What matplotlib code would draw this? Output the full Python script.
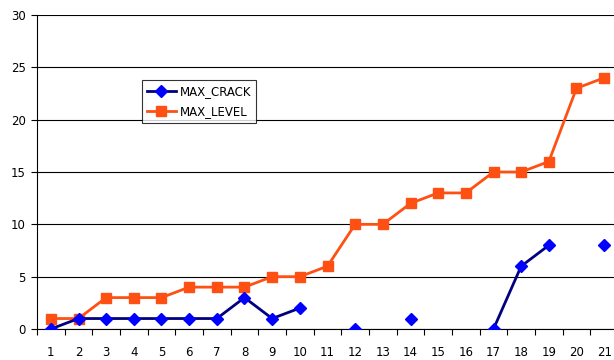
import numpy as np
import matplotlib
matplotlib.use("Agg")
import matplotlib.pyplot as plt

categories = list(range(1, 22))
max_crack = [0, 1, 1, 1, 1, 1, 1, 3, 1, 2, np.nan, 0, np.nan, 1, np.nan, np.nan, 0, 6, 8, np.nan, 8]
max_level = [1, 1, 3, 3, 3, 4, 4, 4, 5, 5, 6, 10, 10, 12, 13, 13, 15, 15, 16, 23, 24]
y_ticks = [0, 5, 10, 15, 20, 25, 30]

fig = plt.figure(figsize=(6.14, 3.6), dpi=100)
ax = fig.add_axes([37 / 614, 31 / 360, 581 / 614, 314 / 360])

x = np.array(categories)
ax.plot(x, max_crack, color="#000080", lw=2, marker="D", ms=6.5,
        mfc="#0000FF", mec="#0000FF", label="MAX_CRACK", zorder=3)
ax.plot(x, max_level, color="#FF5014", lw=2, marker="s", ms=7,
        mfc="#FF5014", mec="#FF5014", label="MAX_LEVEL", zorder=2)

ax.set_xlim(0.5, 21.5)
ax.set_ylim(0, 30)
ax.set_yticks(y_ticks)
ax.set_xticks(x)
ax.set_xticks(np.arange(0.5, 22, 1), minor=True)
ax.tick_params(axis="x", which="major", length=0, pad=12, labelsize=8.5)
ax.tick_params(axis="x", which="minor", length=4, direction="out", width=0.8)
ax.tick_params(axis="y", length=4, direction="out", width=0.8, labelsize=8.5, pad=4)

ax.grid(axis="y", color="black", lw=0.8)
ax.set_axisbelow(True)
for side in ("top", "right"):
    ax.spines[side].set_visible(False)
ax.spines["left"].set_linewidth(0.8)
ax.spines["bottom"].set_linewidth(0.8)

leg = ax.legend(loc="upper left", bbox_to_anchor=(105 / 581, (314 - 65) / 314),
                frameon=True, fancybox=False, edgecolor="black", fontsize=8.5,
                handlelength=2.5, borderpad=0.4, labelspacing=0.6,
                handletextpad=0.3, borderaxespad=0)
leg.get_frame().set_linewidth(0.8)

fig.savefig("out.png", dpi=100)
